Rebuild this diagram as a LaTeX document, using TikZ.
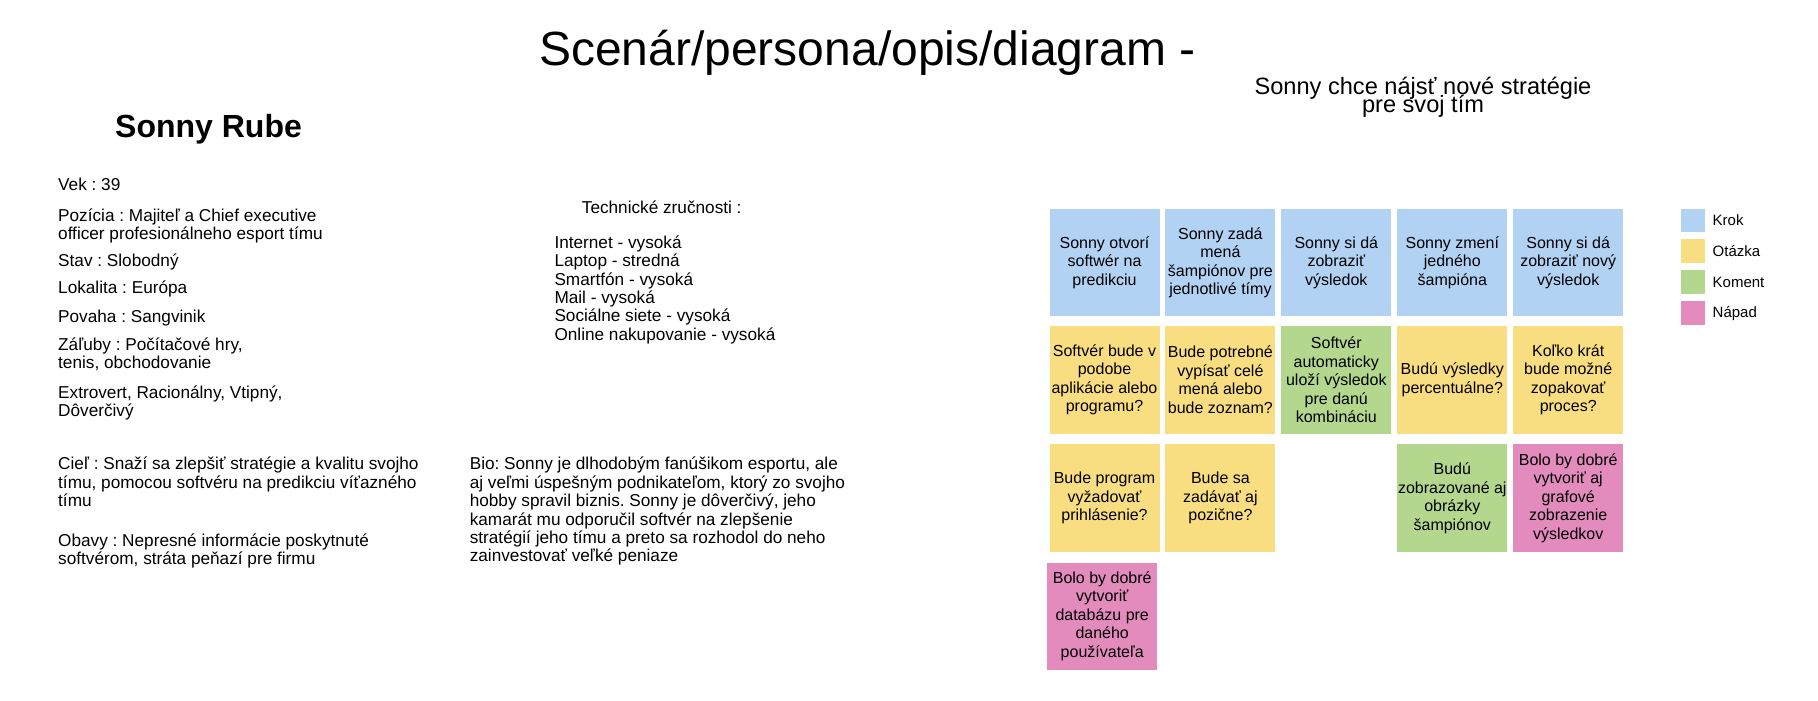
\documentclass[tikz,border=0pt]{standalone}
\usepackage{fontspec}
\setmainfont{Liberation Sans}
\frenchspacing
\definecolor{krokc}{RGB}{177,210,243}
\definecolor{otazkac}{RGB}{248,222,128}
\definecolor{komentc}{RGB}{180,215,142}
\definecolor{napadc}{RGB}{228,139,190}
\newcommand\lnstrut{\rule{0pt}{14pt}}
\begin{document}
\frenchspacing
\begin{tikzpicture}[x=1pt,y=-1pt,
  sticky/.style={anchor=north west, minimum width=110pt, minimum height=107.5pt, inner sep=0pt, align=center, font=\fontsize{16}{18.5}\selectfont},
  body/.style={anchor=north west, inner sep=0pt, align=left, font=\fontsize{17.2}{18.4}\selectfont},
  legsq/.style={anchor=north west, minimum size=23.7pt, inner sep=0pt},
  leglbl/.style={anchor=base west, inner sep=0pt, font=\fontsize{15}{18}\selectfont}]
\useasboundingbox (0,0) rectangle (1818,701);

% titles
\node[anchor=base west, inner sep=0pt, font=\fontsize{48}{52}\selectfont] (title) at (539,66) {Scenár/persona/opis/diagram -};
\node[anchor=base, inner sep=0pt, font=\fontsize{23.6}{17.5}\selectfont] (sub1) at (1423,95) {Sonny chce nájsť nové stratégie};
\node[anchor=base, inner sep=0pt, font=\fontsize{23.6}{17.5}\selectfont] (sub2) at (1423,112.5) {pre svoj tím};
\node[anchor=base west, inner sep=0pt, font=\fontsize{32}{36}\selectfont\bfseries] (name) at (115,137) {Sonny Rube};

% persona
\node[body] (vek) at (58,176) {\lnstrut Vek : 39};
\node[body] (poz) at (58,207) {\lnstrut Pozícia : Majiteľ a Chief executive\\officer profesionálneho esport tímu};
\node[body] (stav) at (58,252) {\lnstrut Stav : Slobodný};
\node[body] (lok) at (58,279.3) {\lnstrut Lokalita : Európa};
\node[body] (pov) at (58,308.7) {\lnstrut Povaha : Sangvinik};
\node[body] (zal) at (58,336) {\lnstrut Záľuby : Počítačové hry,\\tenis, obchodovanie};
\node[body] (ext) at (58,384.3) {\lnstrut Extrovert, Racionálny, Vtipný,\\Dôverčivý};
\node[body] (tech) at (581.7,199) {\lnstrut Technické zručnosti :};
\node[body] (skills) at (554.3,234) {\lnstrut Internet - vysoká\\Laptop - stredná\\Smartfón - vysoká\\Mail - vysoká\\Sociálne siete - vysoká\\Online nakupovanie - vysoká};
\node[body] (ciel) at (58,455.6) {\lnstrut Cieľ : Snaží sa zlepšiť stratégie a kvalitu svojho\\tímu, pomocou softvéru na predikciu víťazného\\tímu};
\node[body] (obavy) at (58,532) {\lnstrut Obavy : Nepresné informácie poskytnuté\\softvérom, stráta peňazí pre firmu};
\node[body] (bio) at (469.6,455.6) {\lnstrut Bio: Sonny je dlhodobým fanúšikom esportu, ale\\aj veľmi úspešným podnikateľom, ktorý zo svojho\\hobby spravil biznis. Sonny je dôverčivý, jeho\\kamarát mu odporučil softvér na zlepšenie\\stratégií jeho tímu a preto sa rozhodol do neho\\zainvestovať veľké peniaze};

% sticky notes row 1
\node[sticky, fill=krokc] (k1) at (1049.3,208.7) {Sonny otvorí\\softwér na\\predikciu};
\node[sticky, fill=krokc] (k2) at (1165.2,208.7) {Sonny zadá\\mená\\šampiónov pre\\jednotlivé tímy};
\node[sticky, fill=krokc] (k3) at (1281.1,208.7) {Sonny si dá\\zobraziť\\výsledok};
\node[sticky, fill=krokc] (k4) at (1397.1,208.7) {Sonny zmení\\jedného\\šampióna};
\node[sticky, fill=krokc] (k5) at (1513.0,208.7) {Sonny si dá\\zobraziť nový\\výsledok};
% row 2
\node[sticky, fill=otazkac] (o1) at (1049.3,325.8) {Softvér bude v\\podobe\\aplikácie alebo\\programu?};
\node[sticky, fill=otazkac] (o2) at (1165.2,325.8) {Bude potrebné\\vypísať celé\\mená alebo\\bude zoznam?};
\node[sticky, fill=komentc] (c1) at (1281.1,325.8) {Softvér\\automaticky\\uloží výsledok\\pre danú\\kombináciu};
\node[sticky, fill=otazkac] (o3) at (1397.1,325.8) {Budú výsledky\\percentuálne?};
\node[sticky, fill=otazkac] (o4) at (1513.0,325.8) {Koľko krát\\bude možné\\zopakovať\\proces?};
% row 3
\node[sticky, fill=otazkac] (o5) at (1049.3,444.1) {Bude program\\vyžadovať\\prihlásenie?};
\node[sticky, fill=otazkac] (o6) at (1165.2,444.1) {Bude sa\\zadávať aj\\pozične?};
\node[sticky, fill=komentc] (c2) at (1397.1,444.1) {Budú\\zobrazované aj\\obrázky\\šampiónov};
\node[sticky, fill=napadc] (n1) at (1513.0,444.1) {Bolo by dobré\\vytvoriť aj\\grafové\\zobrazenie\\výsledkov};
% row 4
\node[sticky, fill=napadc] (n2) at (1047,562.3) {Bolo by dobré\\vytvoriť\\databázu pre\\daného\\používateľa};

% legend
\node[legsq, fill=krokc] (lk) at (1681,208.5) {};
\node[legsq, fill=otazkac] (lo) at (1681,239) {};
\node[legsq, fill=komentc] (lc) at (1681,270) {};
\node[legsq, fill=napadc] (ln) at (1681,301) {};
\node[leglbl] (lkt) at (1712.5,225) {Krok};
\node[leglbl] (lot) at (1712.5,256.5) {Otázka};
\node[leglbl] (lct) at (1712.5,287) {Koment};
\node[leglbl] (lnt) at (1712.5,317.5) {Nápad};
\end{tikzpicture}
\end{document}
